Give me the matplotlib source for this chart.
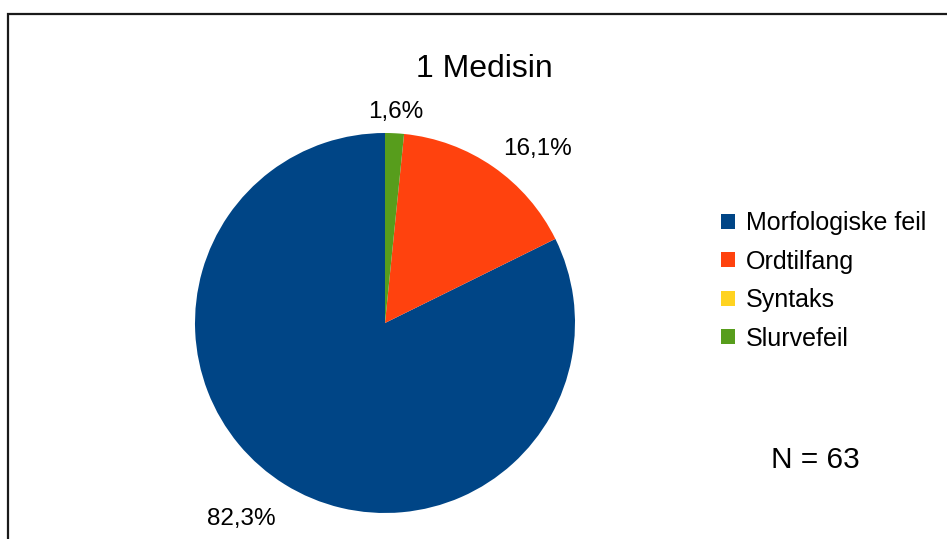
import numpy as np
import matplotlib
matplotlib.use("Agg")
import matplotlib.pyplot as plt
from matplotlib.patches import Rectangle

plt.rcParams['font.family'] = ['Liberation Sans', 'DejaVu Sans']

kategorier = ["Morfologiske feil", "Ordtilfang", "Syntaks", "Slurvefeil"]
andeler = [82.3, 16.1, 0.0, 1.6]
farger = ["#004586", "#ff420e", "#ffd320", "#579d1c"]
tittel = "1 Medisin"
n_tekst = "N = 63"

W, H = 947, 539
fig = plt.figure(figsize=(W / 100, H / 100), dpi=100)
ax = fig.add_axes([0, 0, 1, 1])

# ramme rundt diagrammet (går ut over høyre og nedre kant)
ax.add_patch(Rectangle((8, -20), W + 20, H - 14 + 20, fill=False,
                       edgecolor="#1a1a1a", linewidth=1.6))

sentrum = (385, H - 323)
radius = 190
kiler, _ = ax.pie(andeler, colors=farger, startangle=90, counterclock=True,
                  center=sentrum, radius=radius, frame=True,
                  wedgeprops=dict(linewidth=0))
ax.set_xlim(0, W)
ax.set_ylim(0, H)
ax.set_aspect('equal')
ax.axis('off')

# prosentetiketter utenfor sektorene
for kile, verdi in zip(kiler, andeler):
    if verdi <= 0:
        continue
    mid = np.deg2rad((kile.theta1 + kile.theta2) / 2)
    r = radius + 18
    c, s = np.cos(mid), np.sin(mid)
    x = sentrum[0] + r * c
    y = sentrum[1] + r * s - 8
    ha = 'center' if abs(c) < 0.2 else ('left' if c > 0 else 'right')
    va = 'center' if abs(s) < 0.2 else ('bottom' if s > 0 else 'top')
    ax.text(x, y, f"{verdi:.1f}%".replace('.', ','), ha=ha, va=va,
            fontsize=17.5, color="black")

ax.text(484, H - 69, tittel, ha='center', va='center', fontsize=23)
ax.text(815, H - 460, n_tekst, ha='center', va='center', fontsize=21.5)

ax.legend(kiler, kategorier, loc='upper left', bbox_to_anchor=(721, H - 211),
          bbox_transform=ax.transData, frameon=False, fontsize=18,
          handlelength=0.55, handleheight=0.55, handletextpad=0.45,
          labelspacing=0.58, borderpad=0, borderaxespad=0)

fig.savefig("out.png", dpi=100)
